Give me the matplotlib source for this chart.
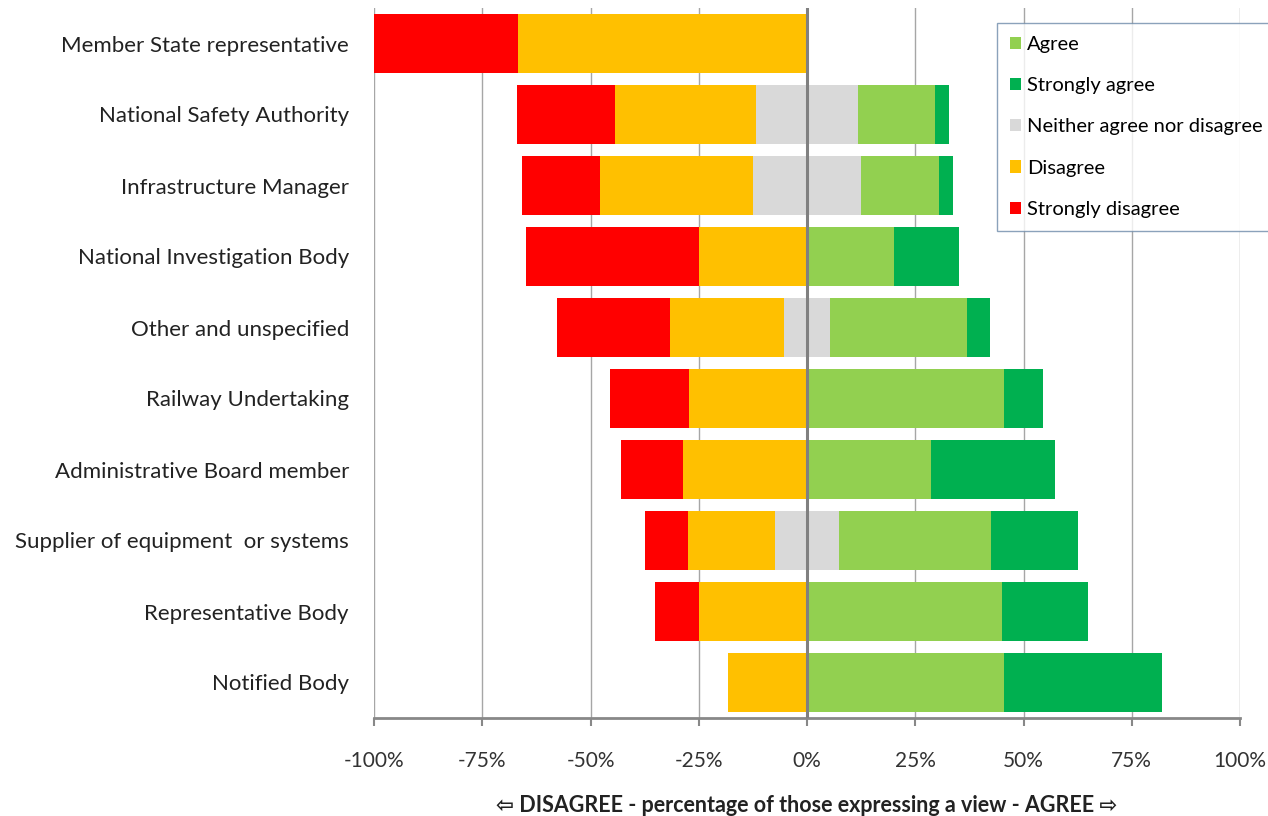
import numpy as np
import matplotlib
matplotlib.use("Agg")
import matplotlib.pyplot as plt
from matplotlib.patches import Patch

plt.rcParams["font.family"] = ["Lato", "DejaVu Sans"]

groups = ["Member State representative", "National Safety Authority", "Infrastructure Manager",
          "National Investigation Body", "Other and unspecified", "Railway Undertaking",
          "Administrative Board member", "Supplier of equipment  or systems",
          "Representative Body", "Notified Body"]

# shares in % of those expressing a view
strongly_disagree = [33.3, 22.6, 18.0, 40.0, 26.3, 18.2, 14.3, 10.0, 10.0, 0.0]
disagree = [66.7, 32.5, 35.4, 25.0, 26.3, 27.3, 28.6, 20.0, 25.0, 18.2]
neither = [0.0, 23.6, 24.8, 0.0, 10.5, 0.0, 0.0, 15.0, 0.0, 0.0]
agree = [0.0, 17.7, 18.0, 20.0, 31.6, 45.4, 28.6, 35.0, 45.0, 45.5]
strongly_agree = [0.0, 3.4, 3.4, 15.0, 5.3, 9.1, 28.6, 20.0, 20.0, 36.4]

colors = {"Agree": "#92D050", "Strongly agree": "#00B050",
          "Neither agree nor disagree": "#D9D9D9", "Disagree": "#FFC000",
          "Strongly disagree": "#FF0000"}

sd = np.array(strongly_disagree)
d = np.array(disagree)
n = np.array(neither)
a = np.array(agree)
sa = np.array(strongly_agree)
y = np.arange(len(groups))
h = 0.83

fig = plt.figure(figsize=(12.68, 8.16), dpi=100)
ax = fig.add_axes([374/1268, 98/816, 866/1268, 710/816])

# left side, from the centre outwards
ax.barh(y, -n/2, height=h, color=colors["Neither agree nor disagree"], zorder=2)
ax.barh(y, -d, left=-n/2, height=h, color=colors["Disagree"], zorder=2)
ax.barh(y, -sd, left=-n/2 - d, height=h, color=colors["Strongly disagree"], zorder=2)
# right side
ax.barh(y, n/2, height=h, color=colors["Neither agree nor disagree"], zorder=2)
ax.barh(y, a, left=n/2, height=h, color=colors["Agree"], zorder=2)
ax.barh(y, sa, left=n/2 + a, height=h, color=colors["Strongly agree"], zorder=2)

ax.set_xlim(-100, 100)
ax.set_ylim(len(groups) - 0.5, -0.5)
ticks = np.arange(-100, 101, 25)
ax.set_xticks(ticks)
ax.set_xticklabels([f"{t}%" for t in ticks], fontsize=15, color="#333333")
ax.set_yticks(y)
ax.set_yticklabels(groups, fontsize=16, color="#222222")
ax.tick_params(axis="y", length=0, pad=18)
ax.tick_params(axis="x", direction="out", length=6, width=1.5, color="#888888", pad=18)

for t in ticks:
    if t == 0:
        ax.axvline(t, color="#808080", lw=2.2, zorder=3)
    else:
        ax.axvline(t, color="#A6A6A6", lw=1, zorder=1)

for s in ["top", "right", "left"]:
    ax.spines[s].set_visible(False)
ax.spines["bottom"].set_color("#888888")
ax.spines["bottom"].set_linewidth(2)

ax.set_xlabel("\u21e6 DISAGREE - percentage of those expressing a view - AGREE \u21e8",
              fontsize=15.5, fontweight="bold", color="#222222", labelpad=17)

order = ["Agree", "Strongly agree", "Neither agree nor disagree", "Disagree", "Strongly disagree"]
handles = [Patch(facecolor=colors[k], edgecolor="none", label=k) for k in order]
leg = fig.legend(handles=handles, loc="upper left", bbox_to_anchor=(997/1268, 1 - 23/816),
                 fontsize=14.5, frameon=True, fancybox=False, edgecolor="#6E8BAA",
                 handlelength=0.55, handleheight=0.55, handletextpad=0.3,
                 labelspacing=1.2, borderpad=0.65, borderaxespad=0)
leg.get_frame().set_linewidth(1)

fig.savefig("out.png", dpi=100)
